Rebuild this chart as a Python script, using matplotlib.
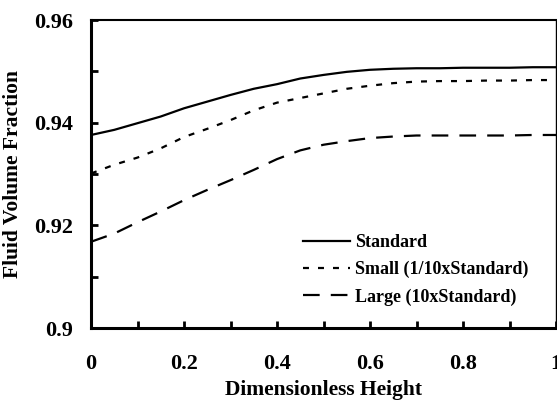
import matplotlib.pyplot as plt
from matplotlib.ticker import MultipleLocator

plt.rcParams['font.family'] = 'Liberation Serif'
plt.rcParams['font.weight'] = 'bold'
plt.rcParams['lines.scale_dashes'] = False

height = [0, 0.05, 0.1, 0.15, 0.2, 0.25, 0.3, 0.35, 0.4, 0.45, 0.5,
          0.55, 0.6, 0.65, 0.7, 0.75, 0.8, 0.85, 0.9, 0.95, 1.0]
standard = [0.9376, 0.9386, 0.9399, 0.9412, 0.9428, 0.9441, 0.9454, 0.9466, 0.9475, 0.9486, 0.9493,
            0.9499, 0.9503, 0.9505, 0.9506, 0.9506, 0.9507, 0.9507, 0.9507, 0.9508, 0.9508]
small = [0.9301, 0.9318, 0.9332, 0.9350, 0.9372, 0.9388, 0.9405, 0.9424, 0.9439, 0.9448, 0.9457,
         0.9466, 0.9472, 0.9477, 0.9480, 0.9481, 0.9481, 0.9482, 0.9482, 0.9483, 0.9483]
large = [0.9168, 0.9184, 0.9206, 0.9227, 0.9249, 0.9269, 0.9288, 0.9308, 0.9329, 0.9346, 0.9357,
         0.9364, 0.9370, 0.9373, 0.9375, 0.9375, 0.9375, 0.9375, 0.9375, 0.9376, 0.9376]

fig = plt.figure(figsize=(5.57, 4.03), dpi=100)
ax = fig.add_axes([91/557, 1 - 328/403, 465/557, 308/403])

ax.plot(height, standard, color='black', lw=1.6, label='Standard')
ax.plot(height, small, color='black', lw=1.6, dashes=(4.3, 6.5), label='Small (1/10xStandard)')
ax.plot(height, large, color='black', lw=1.6, dashes=(12, 8), label='Large (10xStandard)')

ax.set_xlim(0, 1)
ax.set_ylim(0.9, 0.96)
ax.xaxis.set_minor_locator(MultipleLocator(0.1))
ax.yaxis.set_minor_locator(MultipleLocator(0.01))
ax.set_xticks([0, 0.2, 0.4, 0.6, 0.8, 1.0], ['0', '0.2', '0.4', '0.6', '0.8', '1'])
ax.set_yticks([0.9, 0.92, 0.94, 0.96], ['0.9', '0.92', '0.94', '0.96'])
ax.tick_params(which='both', direction='in', length=5, width=2, labelsize=16)
ax.tick_params(axis='x', pad=19)
ax.tick_params(axis='y', pad=13)

ax.spines['left'].set_linewidth(2.2)
ax.spines['bottom'].set_linewidth(2.2)
ax.spines['top'].set_linewidth(1.5)
ax.spines['right'].set_linewidth(1.0)

ax.set_xlabel('Dimensionless Height', fontsize=15.5, fontweight='bold', labelpad=4)
ax.set_ylabel('Fluid Volume Fraction', fontsize=15.5, fontweight='bold', labelpad=8)

ax.legend(loc='lower right', bbox_to_anchor=(0.975, 0.02), frameon=False,
          fontsize=13, handlelength=2.6, handletextpad=0.25, labelspacing=0.55)

fig.savefig('out.png', dpi=100)
